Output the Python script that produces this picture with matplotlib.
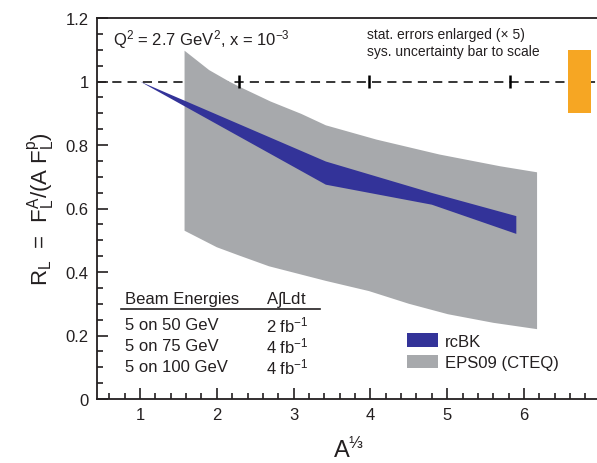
import numpy as np
import matplotlib
matplotlib.use('Agg')
import matplotlib.pyplot as plt
from matplotlib.patches import Patch, Rectangle
from matplotlib.ticker import MultipleLocator

plt.rcParams['font.family'] = ['Liberation Sans', 'DejaVu Sans']
plt.rcParams['mathtext.fontset'] = 'custom'
plt.rcParams['mathtext.rm'] = 'Liberation Sans'
plt.rcParams['mathtext.it'] = 'Liberation Sans'

# EPS09 (CTEQ) band edges vs A^(1/3)
eps_hi_x = [1.58, 1.9, 2.16, 2.29, 2.7, 3.1, 3.42, 4.08, 4.9, 5.69, 6.17]
eps_hi_y = [1.097, 1.036, 1.0, 0.984, 0.937, 0.898, 0.862, 0.817, 0.77, 0.733, 0.714]
eps_lo_x = [1.58, 2.0, 2.29, 2.68, 3.42, 3.98, 4.5, 5.01, 5.6, 6.17]
eps_lo_y = [0.53, 0.478, 0.452, 0.418, 0.372, 0.34, 0.30, 0.267, 0.24, 0.22]

# rcBK band
rcbk_x = [1.0, 3.42, 4.8, 5.9]
rcbk_hi = [1.0, 0.748, 0.649, 0.576]
rcbk_lo = [1.0, 0.675, 0.612, 0.52]

# pseudo-data points (C, Cu, Au) with enlarged stat. errors
pts_x = [2.29, 3.98, 5.82]
pts_y = [1.0, 1.0, 1.0]
pts_err = [0.022, 0.022, 0.022]

# systematic uncertainty bar
sys_x = 6.72
sys_halfwidth = 0.15
sys_err = 0.1

beam_energies = ['5 on 50 GeV', '5 on 75 GeV', '5 on 100 GeV']
lumis = ['2 fb$^{-1}$', '4 fb$^{-1}$', '4 fb$^{-1}$']

txt = '#231f20'
blue = '#333399'
grey = '#a7a9ac'
orange = '#f6a623'

fig = plt.figure(figsize=(5.97, 4.64), dpi=100)
ax = fig.add_axes([97 / 597, 64 / 464, 503.8 / 597, 381 / 464])

ax.axhline(1.0, color='black', lw=1.1, ls=(0, (6, 4)), zorder=1)

ax.fill(np.r_[eps_hi_x, eps_lo_x[::-1]], np.r_[eps_hi_y, eps_lo_y[::-1]],
        color=grey, lw=0, zorder=2)
ax.fill(np.r_[rcbk_x, rcbk_x[::-1]], np.r_[rcbk_hi, rcbk_lo[::-1]],
        color=blue, lw=0, zorder=3)

ax.errorbar(pts_x, pts_y, yerr=pts_err, fmt='none', ecolor='black',
            elinewidth=1.8, capsize=0, zorder=4)

ax.add_patch(Rectangle((sys_x - sys_halfwidth, 1.0 - sys_err),
                       2 * sys_halfwidth, 2 * sys_err,
                       color=orange, lw=0, zorder=4))

ax.set_xlim(0.44, 7.0)
ax.set_ylim(0, 1.2)
ax.xaxis.set_major_locator(MultipleLocator(1))
ax.xaxis.set_minor_locator(MultipleLocator(0.2))
ax.yaxis.set_major_locator(MultipleLocator(0.2))
ax.yaxis.set_minor_locator(MultipleLocator(0.05))
ax.set_yticks([0, 0.2, 0.4, 0.6, 0.8, 1.0, 1.2])
ax.set_yticklabels(['0', '0.2', '0.4', '0.6', '0.8', '1', '1.2'])
ax.tick_params(which='both', direction='in', top=False, right=False,
               labelsize=12, colors=txt, width=1.2)
ax.tick_params(which='major', length=8, pad=6)
ax.tick_params(which='minor', length=4.5)
for s in ax.spines.values():
    s.set_linewidth(1.3)
    s.set_color(txt)

ax.set_xlabel(r'A$^{⅓}$', fontsize=17, color=txt, labelpad=10)
ax.set_ylabel(r'R$_\mathregular{L}$  =  F$_\mathregular{L}^\mathregular{A}$/(A F$_\mathregular{L}^\mathregular{p}$)',
              fontsize=16, color=txt, labelpad=6)

ax.text(0.65, 1.118, r'Q$^2$ = 2.7 GeV$^2$, x = 10$^{-3}$', fontsize=12,
        color=txt, va='baseline')
ax.text(3.95, 1.136, 'stat. errors enlarged (× 5)', fontsize=10, color=txt,
        va='baseline')
ax.text(3.95, 1.084, 'sys. uncertainty bar to scale', fontsize=10, color=txt,
        va='baseline')

# beam energy / luminosity table
ax.text(0.805, 0.303, 'Beam Energies', fontsize=12, color=txt, va='baseline')
ax.text(2.647, 0.303, r'A$\int$Ldt', fontsize=12, color=txt, va='baseline')
ax.plot([0.75, 3.34], [0.283, 0.283], color=txt, lw=1.2)
for i, (be, lu) in enumerate(zip(beam_energies, lumis)):
    y = 0.236 - i * 0.067
    ax.text(0.805, y, be, fontsize=12, color=txt, va='center')
    ax.text(2.647, y, lu, fontsize=12, color=txt, va='center')

handles = [Patch(facecolor=blue, edgecolor='none', label='rcBK'),
           Patch(facecolor=grey, edgecolor='none', label='EPS09 (CTEQ)')]
leg = ax.legend(handles=handles, loc='upper left',
                bbox_to_anchor=(4.477, 0.207), bbox_transform=ax.transData,
                frameon=False, fontsize=12, borderpad=0, borderaxespad=0,
                handlelength=1.85, handleheight=0.85, handletextpad=0.45,
                labelspacing=0.38)
for t in leg.get_texts():
    t.set_color(txt)

fig.savefig('out.png', dpi=100)
